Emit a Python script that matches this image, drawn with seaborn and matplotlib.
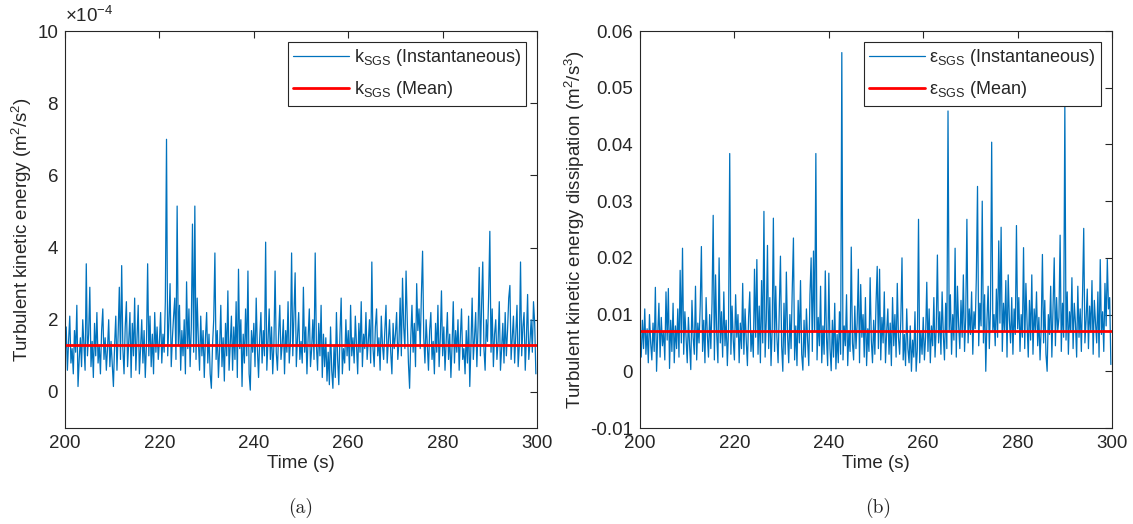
import numpy as np
import pandas as pd
import seaborn as sns
import matplotlib.pyplot as plt
from matplotlib.ticker import FuncFormatter

# Sub-grid-scale turbulent kinetic energy, units of 1e-4 m^2/s^2 (0.25 s sampling, 200-300 s)
k_sgs = [
    0.9, 1.8, 0.6, 1.4, 2.1, 0.8, 1.2, 0.5, 1.7, 1.1, 2.4, 0.15, 0.9, 1.5, 0.7, 2.0, 1.3, 0.6, 3.55, 1.0,
    1.6, 2.9, 0.7, 1.4, 0.4, 1.9, 1.0, 2.2, 0.8, 1.3, 0.5, 1.7, 2.3, 0.9, 1.5, 0.6, 1.2, 2.0, 0.7, 1.4,
    0.8, 0.15, 1.3, 2.1, 0.6, 1.6, 2.9, 0.9, 3.5, 1.2, 0.5, 1.8, 2.5, 0.7, 1.4, 2.2, 0.4, 1.9, 1.0, 2.6,
    0.6, 1.5, 2.4, 0.5, 1.2, 2.0, 0.8, 1.7, 0.4, 1.3, 3.55, 1.0, 2.1, 0.7, 1.6, 0.5, 2.2, 1.1, 1.8, 0.9,
    1.4, 2.2, 0.8, 1.6, 1.1, 2.5, 7.0, 1.0, 1.9, 3.0, 0.7, 1.5, 2.1, 2.6, 0.9, 5.15, 1.3, 2.4, 0.6, 1.7,
    1.0, 2.0, 0.5, 3.05, 1.2, 2.3, 0.7, 1.8, 4.65, 1.1, 5.15, 0.9, 2.6, 1.4, 0.6, 2.1, 1.0, 1.7, 0.4, 1.5,
    2.2, 0.8, 1.6, 0.5, 0.1, 1.3, 2.0, 3.85, 0.9, 1.7, 0.4, 1.2, 2.4, 0.7, 1.5, 0.3, 1.9, 1.0, 2.8, 0.6,
    1.3, 2.1, 0.6, 1.8, 0.9, 2.5, 0.4, 3.4, 1.2, 2.0, 0.15, 1.6, 0.8, 2.3, 1.0, 3.35, 0.5, 0.05, 1.7, 1.1,
    1.9, 0.7, 2.6, 1.2, 0.4, 1.5, 2.2, 0.8, 1.7, 1.0, 4.15, 0.6, 1.4, 2.3, 0.9, 1.8, 0.5, 1.3, 3.35, 1.1,
    0.6, 1.6, 2.4, 0.9, 1.3, 2.0, 0.5, 1.7, 1.1, 2.5, 0.8, 1.4, 3.85, 1.0, 2.1, 3.3, 0.7, 1.5, 2.2, 0.9,
    1.4, 0.8, 2.9, 1.1, 1.8, 0.5, 1.5, 2.3, 0.7, 1.2, 2.0, 0.9, 3.85, 1.3, 0.6, 1.9, 1.0, 2.4, 0.4, 1.6,
    0.7, 1.5, 0.3, 1.1, 0.2, 1.8, 0.6, 0.1, 1.3, 0.4, 2.2, 0.9, 0.2, 1.6, 2.6, 0.5, 1.2, 0.8, 2.0, 1.0,
    1.7, 0.6, 2.4, 1.0, 1.5, 0.8, 2.1, 1.3, 0.5, 1.9, 1.1, 2.5, 0.7, 1.6, 1.2, 2.2, 0.9, 1.4, 2.0, 0.8,
    3.6, 1.2, 0.7, 1.8, 2.3, 1.0, 1.5, 0.6, 2.1, 1.3, 0.9, 1.7, 2.4, 0.8, 1.4, 2.0, 1.1, 0.5, 1.9, 1.2,
    1.6, 2.2, 0.9, 1.4, 2.6, 1.0, 3.15, 1.8, 1.2, 3.35, 2.0, 0.8, 0.1, 1.5, 2.4, 1.1, 1.9, 0.7, 3.0, 1.7,
    2.3, 1.2, 2.7, 3.9, 1.5, 0.8, 2.0, 1.3, 0.6, 1.7, 2.2, 0.9, 1.4, 0.5, 1.9, 1.1, 2.4, 0.7, 1.5, 2.8,
    1.0, 1.8, 0.6, 1.4, 2.2, 0.9, 1.6, 0.4, 1.3, 2.5, 0.8, 1.7, 1.1, 2.0, 0.6, 1.5, 2.3, 0.9, 1.2, 0.5,
    1.7, 0.8, 2.1, 0.15, 1.3, 2.6, 0.9, 1.5, 2.2, 0.7, 1.8, 3.45, 1.0, 2.4, 3.6, 1.2, 0.6, 2.0, 1.4, 2.7,
    4.45, 1.1, 2.3, 0.7, 1.6, 2.0, 0.9, 1.4, 2.5, 0.6, 1.2, 1.9, 0.8, 2.2, 1.0, 1.7, 2.6, 2.95, 0.9, 1.5,
    2.1, 0.8, 1.6, 2.4, 0.7, 1.3, 3.6, 1.0, 1.8, 2.2, 0.6, 1.5, 2.7, 0.9, 1.4, 2.0, 1.1, 2.5, 1.9, 0.5,
]
k_mean = 1.29  # units of 1e-4

# Sub-grid-scale dissipation rate, units of 1e-3 m^2/s^3
eps_sgs = [
    6.0, 2.5, 9.0, 4.0, 11.0, 3.0, 7.5, 1.5, 10.0, 5.0, 2.0, 8.5, 3.5, 14.8, 0.0, 6.5, 12.0, 2.5, 9.5, 4.5,
    7.0, 2.0, 14.0, 5.5, 14.6, 0.5, 9.0, 3.5, 12.0, 1.5, 8.0, 4.0, 11.0, 2.5, 17.8, 5.0, 21.7, 3.0, 10.5, 6.0,
    1.5, 9.5, 4.5, 0.3, 12.5, 6.0, 3.0, 15.0, 2.0, 8.5, 5.0, 11.5, 22.0, 3.5, 9.0, 1.5, 13.0, 6.5, 2.5, 10.0,
    4.0, 12.0, 27.5, 2.0, 17.0, 6.5, 1.5, 20.0, 5.0, 10.5, 2.5, 14.0, 4.5, 9.0, 1.0, 7.5, 38.4, 3.0, 11.5, 5.5,
    2.0, 13.5, 6.0, 10.0, 1.5, 8.5, 4.0, 15.5, 3.0, 11.0, 5.5, 1.0, 9.5, 14.0, 3.5, 7.0, 2.5, 18.0, 6.0, 19.7,
    3.0, 11.5, 1.5, 16.0, 5.0, 28.2, 2.5, 9.0, 22.2, 4.0, 13.0, 1.0, 7.5, 27.0, 3.5, 15.0, 6.0, 1.5, 10.5, 20.3,
    4.5, 0.0, 12.0, 3.0, 17.5, 6.5, 1.5, 10.0, 4.0, 14.5, 23.5, 2.0, 8.0, 1.0, 12.5, 5.0, 16.0, 3.0, 0.2, 9.0,
    2.5, 11.0, 5.5, 1.0, 13.5, 20.0, 3.5, 21.2, 7.0, 38.4, 2.0, 9.5, 4.5, 15.0, 1.5, 8.0, 3.0, 17.7, 6.0, 1.0,
    17.3, 4.0, 0.1, 9.0, 2.5, 12.0, 0.4, 6.5, 1.5, 10.5, 3.0, 56.2, 2.0, 8.0, 4.5, 13.5, 1.0, 7.0, 3.5, 21.9,
    5.0, 2.0, 11.5, 4.0, 8.5, 18.0, 1.5, 15.3, 6.0, 10.0, 2.5, 13.0, 1.0, 7.5, 3.5, 16.5, 5.5, 1.5, 9.0, 3.0,
    12.0, 18.5, 4.0, 18.0, 2.0, 9.5, 5.0, 14.0, 1.5, 7.0, 11.0, 3.0, 8.5, 1.0, 13.0, 4.5, 10.0, 2.5, 15.5, 6.0,
    3.0, 9.0, 20.0, 2.0, 6.5, 1.0, 11.0, 4.0, 1.5, 8.0, 0.0, 5.5, 2.5, 10.5, 0.0, 4.0, 26.8, 1.5, 7.0, 3.0,
    9.5, 2.0, 6.0, 15.7, 3.5, 11.0, 1.5, 8.0, 4.5, 13.0, 2.5, 7.5, 20.5, 5.0, 10.5, 3.0, 14.0, 6.5, 2.0, 12.0,
    4.0, 45.9, 7.0, 13.5, 3.0, 10.0, 5.5, 21.7, 2.5, 15.0, 8.0, 4.0, 12.5, 6.0, 17.0, 3.5, 9.5, 26.8, 5.0, 11.0,
    6.5, 14.0, 3.0, 10.5, 7.5, 16.5, 32.6, 4.5, 12.0, 8.0, 30.0, 5.0, 13.5, 0.0, 9.0, 15.0, 4.0, 11.0, 40.4, 7.0,
    10.0, 4.5, 14.5, 6.0, 23.0, 8.5, 25.4, 3.5, 12.0, 7.0, 16.0, 2.5, 17.0, 9.0, 5.0, 13.0, 3.0, 11.0, 6.5, 25.7,
    7.5, 13.0, 3.5, 10.0, 6.0, 21.8, 4.0, 15.5, 8.5, 2.5, 12.5, 5.5, 17.0, 3.0, 11.0, 7.0, 14.0, 4.5, 9.5, 2.0,
    8.0, 20.6, 5.0, 12.5, 3.0, 0.0, 10.0, 6.5, 15.0, 2.5, 11.5, 20.0, 4.5, 13.0, 7.0, 9.5, 24.0, 3.5, 12.0, 6.0,
    47.0, 5.5, 14.0, 3.0, 10.5, 7.0, 16.5, 4.0, 12.0, 8.5, 2.5, 15.0, 6.0, 11.0, 3.5, 13.5, 25.2, 5.0, 9.0, 14.5,
    4.0, 11.5, 7.0, 16.0, 3.0, 12.5, 8.5, 5.0, 14.0, 2.5, 19.7, 6.5, 10.5, 3.5, 15.5, 8.0, 19.7, 11.0, 13.0, 1.2,
]
eps_mean = 7.1  # units of 1e-3

t_start, t_step = 200.0, 0.25
x_ticks = [200, 220, 240, 260, 280, 300]
k_ticks = [0, 2e-4, 4e-4, 6e-4, 8e-4, 10e-4]
eps_ticks = [-0.01, 0, 0.01, 0.02, 0.03, 0.04, 0.05, 0.06]

time = t_start + t_step * np.arange(len(k_sgs))
df = pd.DataFrame({
    "time": time,
    "k": np.array(k_sgs) * 1e-4,
    "k_mean": np.full(len(k_sgs), k_mean * 1e-4),
    "eps": np.array(eps_sgs) * 1e-3,
    "eps_mean": np.full(len(eps_sgs), eps_mean * 1e-3),
})

sns.set_theme(style="white")
plt.rcParams.update({
    "font.family": ["Liberation Sans", "DejaVu Sans"],
    "mathtext.fontset": "custom",
    "mathtext.rm": "Liberation Sans",
    "mathtext.it": "Liberation Sans:italic",
    "mathtext.default": "regular",
    "axes.unicode_minus": False,
    "axes.edgecolor": "#262626",
    "axes.linewidth": 0.8,
    "xtick.color": "#262626",
    "ytick.color": "#262626",
    "text.color": "#262626",
    "axes.labelcolor": "#262626",
})

fig = plt.figure(figsize=(11.33, 5.24), dpi=100)
ax1 = fig.add_axes([0.0574, 0.1832, 0.4166, 0.7576])
ax2 = fig.add_axes([0.5649, 0.1832, 0.4166, 0.7576])

blue = "#0072BD"
red = "#FF0000"
fs = 13.5

sns.lineplot(data=df, x="time", y="k", ax=ax1, color=blue, linewidth=0.9,
             label=r"k$_{SGS}$ (Instantaneous)")
sns.lineplot(data=df, x="time", y="k_mean", ax=ax1, color=red, linewidth=2,
             label=r"k$_{SGS}$ (Mean)")
sns.lineplot(data=df, x="time", y="eps", ax=ax2, color=blue, linewidth=0.9,
             label=r"ε$_{SGS}$ (Instantaneous)")
sns.lineplot(data=df, x="time", y="eps_mean", ax=ax2, color=red, linewidth=2,
             label=r"ε$_{SGS}$ (Mean)")

for ax in (ax1, ax2):
    ax.set_xlim(200, 300)
    ax.set_xticks(x_ticks)
    ax.set_xlabel("Time (s)", fontsize=fs, labelpad=2)
    ax.tick_params(direction="in", top=True, right=True, length=5, width=0.8,
                   labelsize=fs, pad=5)
    for s in ax.spines.values():
        s.set_visible(True)
        s.set_color("#262626")
    leg = ax.legend(loc="upper right", fontsize=13, handlelength=3.1,
                    handletextpad=0.25, borderaxespad=0.6, fancybox=False,
                    framealpha=1, edgecolor="#262626", labelspacing=0.6,
                    borderpad=0.3)
    leg.get_frame().set_linewidth(0.8)

# kinetic energy axis: tick labels in units of 1e-4 with a shared exponent label
ax1.set_ylim(-1e-4, 10e-4)
ax1.set_yticks(k_ticks)
ax1.yaxis.set_major_formatter(FuncFormatter(lambda v, _: f"{round(v / 1e-4):d}"))
ax1.text(0.0, 1.012, r"×10$^{-4}$", transform=ax1.transAxes, ha="left", va="bottom",
         fontsize=fs)
ax1.set_ylabel(r"Turbulent kinetic energy (m$^2$/s$^2$)", fontsize=fs, labelpad=2)

ax2.set_ylim(-0.01, 0.06)
ax2.set_yticks(eps_ticks)
ax2.yaxis.set_major_formatter(FuncFormatter(lambda v, _: f"{v:g}"))
ax2.set_ylabel(r"Turbulent kinetic energy dissipation (m$^2$/s$^3$)", fontsize=fs, labelpad=2)

fig.text(0.2657, 0.03, "(a)", ha="center", va="center", fontsize=14, family="cmr10")
fig.text(0.7750, 0.03, "(b)", ha="center", va="center", fontsize=14, family="cmr10")

fig.savefig("out.png", dpi=100)
